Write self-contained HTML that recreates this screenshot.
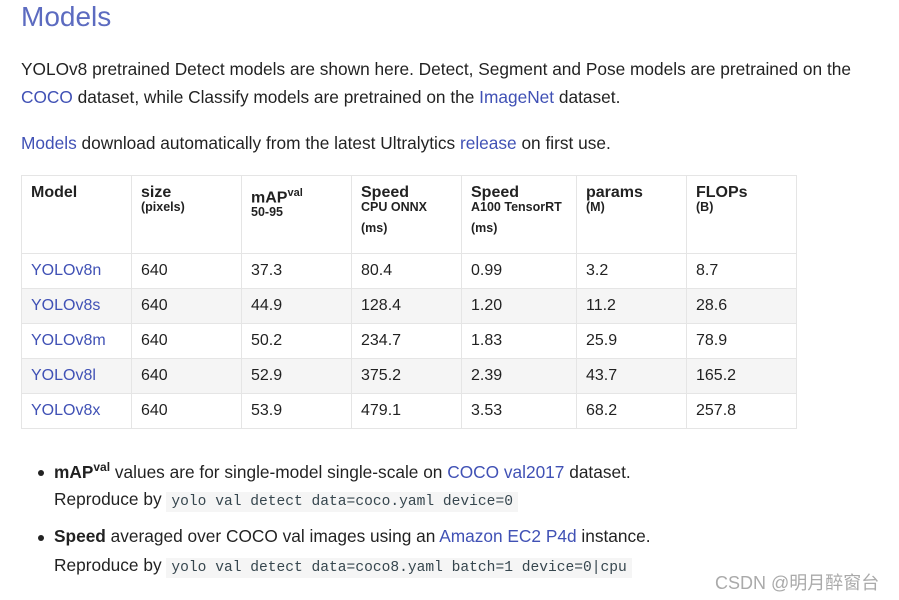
<!DOCTYPE html>
<html><head><meta charset="utf-8"><style>
body{margin:0;width:899px;height:600px;background:#fff;font-family:"Liberation Sans","Noto Sans CJK SC",sans-serif;color:rgba(0,0,0,.87);position:relative;overflow:hidden}
.a{position:absolute;white-space:nowrap}
.l{color:#4051b5}
.p{font-size:17.3px}
table{position:absolute;left:21px;top:175px;border-collapse:collapse;font-size:16px}
td,th{border:1px solid #e5e5e5;padding:0 0 0 9px;text-align:left;vertical-align:middle}
th{vertical-align:top;font-weight:bold;font-size:16px;padding-top:9px;height:68px;line-height:16px}
th small{display:block;font-size:12.5px;line-height:13px}
tbody tr{height:35px}
tbody tr:nth-child(2n){background:#f5f5f5}
code{font-family:"Liberation Mono",monospace;font-size:14.6px;background:#f5f5f5;padding:2px 5px;color:#36464e}
.dot{position:absolute;width:6px;height:6px;border-radius:3px;background:#222}
</style></head><body>
<div class="a l" style="left:21px;top:1px;font-size:28px;color:#5c6bc0">Models</div>
<div class="a p" style="left:21px;top:59px">YOLOv8 pretrained Detect models are shown here. Detect, Segment and Pose models are pretrained on the</div>
<div class="a p" style="left:21px;top:87px"><span class="l">COCO</span> dataset, while Classify models are pretrained on the <span class="l">ImageNet</span> dataset.</div>
<div class="a p" style="left:21px;top:133px"><span class="l">Models</span> download automatically from the latest Ultralytics <span class="l">release</span> on first use.</div>
<table>
<colgroup><col style="width:110px"><col style="width:110px"><col style="width:110px"><col style="width:110px"><col style="width:115px"><col style="width:110px"><col style="width:110px"></colgroup>
<thead><tr>
<th>Model</th><th>size<small>(pixels)</small></th><th>mAP<sup style="font-size:11px">val</sup><small>50-95</small></th><th>Speed<small>CPU ONNX</small><small style="margin-top:8px">(ms)</small></th><th>Speed<small>A100 TensorRT</small><small style="margin-top:8px">(ms)</small></th><th>params<small>(M)</small></th><th>FLOPs<small>(B)</small></th></tr></thead>
<tbody>
<tr><td class="l">YOLOv8n</td><td>640</td><td>37.3</td><td>80.4</td><td>0.99</td><td>3.2</td><td>8.7</td></tr>
<tr><td class="l">YOLOv8s</td><td>640</td><td>44.9</td><td>128.4</td><td>1.20</td><td>11.2</td><td>28.6</td></tr>
<tr><td class="l">YOLOv8m</td><td>640</td><td>50.2</td><td>234.7</td><td>1.83</td><td>25.9</td><td>78.9</td></tr>
<tr><td class="l">YOLOv8l</td><td>640</td><td>52.9</td><td>375.2</td><td>2.39</td><td>43.7</td><td>165.2</td></tr>
<tr><td class="l">YOLOv8x</td><td>640</td><td>53.9</td><td>479.1</td><td>3.53</td><td>68.2</td><td>257.8</td></tr>
</tbody></table>
<div class="dot" style="left:38px;top:470px"></div>
<div class="a p" style="left:54px;top:460px"><b>mAP<sup style="font-size:12px">val</sup></b> values are for single-model single-scale on <span class="l">COCO val2017</span> dataset.</div>
<div class="a p" style="left:54px;top:489px">Reproduce by <code>yolo val detect data=coco.yaml device=0</code></div>
<div class="dot" style="left:38px;top:535px"></div>
<div class="a p" style="left:54px;top:526px"><b>Speed</b> averaged over COCO val images using an <span class="l">Amazon EC2 P4d</span> instance.</div>
<div class="a p" style="left:54px;top:555px">Reproduce by <code>yolo val detect data=coco8.yaml batch=1 device=0|cpu</code></div>
<div class="a" style="left:715px;top:569px;font-size:18px;color:#aaa">CSDN @明月醉窗台</div>
</body></html>
